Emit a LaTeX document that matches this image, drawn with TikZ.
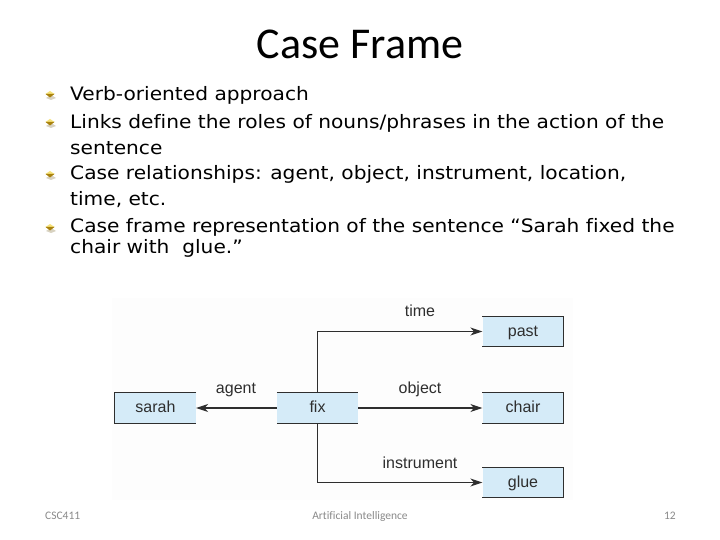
\documentclass[tikz,border=0pt]{standalone}
\usepackage{fontspec}
\usetikzlibrary{arrows.meta}
\newfontfamily\bodyfont[Ligatures=NoCommon]{DejaVu Sans}
\newfontfamily\titlefont[Ligatures=NoCommon]{Carlito}
\newfontfamily\diafont[Ligatures=NoCommon]{Liberation Sans}
\definecolor{boxblue}{HTML}{D5EBF8}
\definecolor{lineclr}{HTML}{2E2E2E}
\definecolor{footgray}{HTML}{8A8A8A}
\definecolor{goldlight}{HTML}{F6E27A}
\definecolor{golddark}{HTML}{A9820E}
\definecolor{panel}{HTML}{FDFDFD}
\newcommand{\wide}[1]{\scalebox{1.09}[1]{#1}}
\tikzset{
  bodytext/.style={anchor=base west, inner sep=0pt, font=\bodyfont\fontsize{18.5}{21}\selectfont},
  foot/.style={anchor=base, inner sep=0pt, text=footgray, font=\titlefont\fontsize{11.5}{13}\selectfont},
  framebox/.style={fill=boxblue, draw=none, inner sep=0pt, minimum width=81pt, minimum height=30pt,
    text height=13.2pt, text depth=3.3pt, font=\diafont\fontsize{16}{18}\selectfont, text=lineclr},
  rel/.style={anchor=base, inner sep=0pt, font=\diafont\fontsize{16}{18}\selectfont, text=lineclr},
  conn/.style={draw=lineclr, line width=1.1pt, -{Stealth[length=12pt,width=8pt]}},
  edge/.style={draw=lineclr, line width=1pt},
}
\newcommand{\goldbullet}[2]{%
  \fill[golddark!60!black, opacity=0.25] (#1+1,#2+1) -- (#1+6,#2+4) -- (#1+1,#2+6) -- (#1-4,#2+4) -- cycle;
  \fill[goldlight] (#1-4.5,#2) -- (#1,#2-3) -- (#1+4.5,#2) -- cycle;
  \fill[golddark] (#1-4.5,#2) -- (#1+4.5,#2) -- (#1,#2+3.5) -- cycle;
}
\begin{document}
\begin{tikzpicture}[x=1pt,y=-1pt]
\useasboundingbox (0,0) rectangle (720,540);
\fill[white] (0,0) rectangle (720,540);

% title
\node[anchor=base, inner sep=0pt, font=\titlefont\fontsize{44}{48}\selectfont] (title) at (360,59) {Case Frame};

% bullets
\goldbullet{50}{94}
\goldbullet{50}{122}
\goldbullet{50}{174}
\goldbullet{50}{227}
\node[bodytext] (l1) at (70,101) {\wide{Verb-oriented approach}};
\node[bodytext] (l2) at (70,129) {\wide{Links define the roles of nouns/phrases in the action of the}};
\node[bodytext] (l3) at (70,155) {\wide{sentence}};
\node[bodytext] (l4) at (70,180) {\wide{Case relationships: agent, object, instrument, location,}};
\node[bodytext] (l5) at (70,206) {\wide{time, etc.}};
\node[bodytext] (l6) at (70,233) {\wide{Case frame representation of the sentence “Sarah fixed the}};
\node[bodytext] (l7) at (70,254) {\wide{chair with\ \ glue.”}};

% diagram panel
\fill[panel] (112,298) rectangle (573,500);

% boxes
\node[framebox] (sarah) at (155.5,408) {sarah};
\node[framebox] (fix) at (317.5,408) {fix};
\node[framebox] (past) at (523,331.5) {past};
\node[framebox] (chair) at (523,408) {chair};
\node[framebox] (glue) at (523,482.5) {glue};

% partial borders
\draw[edge] (sarah.north east) -- (sarah.north west) -- (sarah.south west) -- (sarah.south east);
\draw[edge] (fix.north west) -- (fix.north east);
\draw[edge] (fix.south west) -- (fix.south east);
\foreach \b in {past,chair,glue}{
  \draw[edge] (\b.north west) -- (\b.north east) -- (\b.south east) -- (\b.south west);
}

% connectors
\draw[conn] (fix.west) -- (sarah.east);
\draw[conn] (fix.north) |- (past.west);
\draw[conn] (fix.east) -- (chair.west);
\draw[conn] (fix.south) |- (glue.west);

% relation labels
\node[rel] (ltime) at (420,316) {time};
\node[rel] (lagent) at (236,393) {agent};
\node[rel] (lobject) at (420,393) {object};
\node[rel] (linstr) at (420,468) {instrument};

% footer
\node[foot, anchor=base west] (f1) at (45,519) {CSC411};
\node[foot] (f2) at (360,519) {Artificial Intelligence};
\node[foot, anchor=base east] (f3) at (676,519) {12};
\end{tikzpicture}
\end{document}
